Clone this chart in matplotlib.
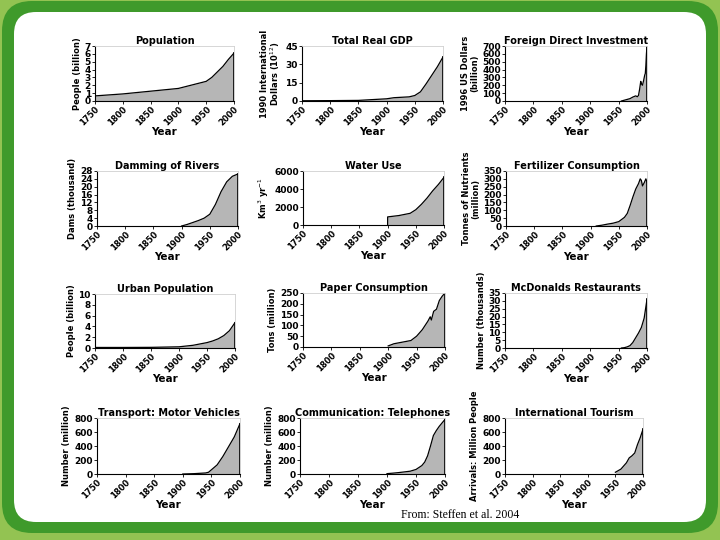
import matplotlib.pyplot as plt
from matplotlib.patches import FancyBboxPatch

# ---- data ----
pop_yr = [1750, 1800, 1850, 1900, 1950, 1960, 1970, 1980, 1990, 2000]
pop_val = [0.65, 0.9, 1.25, 1.6, 2.5, 3.0, 3.7, 4.4, 5.3, 6.1]

gdp_yr = [1750, 1800, 1850, 1900, 1913, 1940, 1950, 1960, 1970, 1980, 1990, 2000]
gdp_val = [0.2, 0.3, 0.5, 1.8, 2.7, 3.4, 4.5, 7.5, 14, 21, 28, 36]

fdi_yr = [1955, 1960, 1970, 1975, 1980, 1983, 1985, 1987, 1989, 1990, 1992, 1994, 1996, 1997, 1998, 1999, 2000]
fdi_val = [0, 10, 30, 50, 65, 55, 70, 150, 250, 220, 200, 260, 330, 350, 450, 600, 700]

dam_yr = [1900, 1910, 1920, 1930, 1940, 1950, 1960, 1970, 1980, 1990, 2000]
dam_val = [0, 0.8, 1.8, 2.8, 4.0, 6.0, 11, 17.5, 22.5, 25.3, 26.5]

wat_yr = [1900, 1900.1, 1920, 1940, 1950, 1960, 1970, 1980, 1990, 2000]
wat_val = [0, 900, 1050, 1300, 1700, 2300, 3000, 3800, 4500, 5300]

fer_yr = [1910, 1920, 1930, 1940, 1950, 1960, 1965, 1970, 1975, 1980, 1985, 1988, 1990, 1992, 1995, 1998, 2000]
fer_val = [0, 5, 12, 18, 28, 55, 80, 130, 185, 235, 270, 300, 290, 255, 275, 300, 280]

urb_yr = [1750, 1800, 1850, 1900, 1925, 1950, 1960, 1970, 1980, 1990, 2000]
urb_val = [0.1, 0.1, 0.12, 0.22, 0.5, 1.0, 1.3, 1.7, 2.3, 3.2, 4.7]

pap_yr = [1900, 1910, 1920, 1930, 1940, 1950, 1960, 1970, 1974, 1976, 1980, 1985, 1990, 1995, 2000]
pap_val = [5, 15, 20, 25, 30, 50, 80, 120, 140, 125, 165, 175, 215, 235, 250]

mcd_yr = [1955, 1960, 1965, 1970, 1975, 1980, 1985, 1990, 1995, 2000]
mcd_val = [0, 0.2, 0.7, 1.5, 3.5, 6.5, 9.5, 13, 19, 31]

car_yr = [1900, 1920, 1940, 1945, 1950, 1960, 1970, 1980, 1990, 2000]
car_val = [0, 5, 15, 25, 60, 130, 250, 390, 530, 720]

tel_yr = [1900, 1910, 1920, 1930, 1940, 1950, 1960, 1965, 1970, 1975, 1980, 1985, 1990, 2000]
tel_val = [5, 12, 20, 30, 40, 65, 120, 170, 260, 400, 550, 620, 680, 780]

tou_yr = [1950, 1960, 1970, 1975, 1980, 1985, 1990, 1995, 2000]
tou_val = [25, 70, 160, 230, 260, 300, 420, 520, 640]

# title, ylabel, years, values, ymax, ystep, (left, top, right, bottom) in pixels
panels = [
    ("Population", "People (billion)", pop_yr, pop_val, 7, 1, (95, 46, 234, 101)),
    ("Total Real GDP", "1990 International\nDollars (10$^{12}$)", gdp_yr, gdp_val, 45, 15, (302, 46, 443, 101)),
    ("Foreign Direct Investment", "1996 US Dollars\n(billion)", fdi_yr, fdi_val, 700, 100, (505, 46, 647, 101)),
    ("Damming of Rivers", "Dams (thousand)", dam_yr, dam_val, 28, 4, (97, 171, 238, 226)),
    ("Water Use", "Km$^3$ yr$^{-1}$", wat_yr, wat_val, 6000, 2000, (303, 171, 444, 225)),
    ("Fertilizer Consumption", "Tonnes of Nutrients\n(million)", fer_yr, fer_val, 350, 50, (506, 171, 647, 226)),
    ("Urban Population", "People (billion)", urb_yr, urb_val, 10, 2, (95, 294, 235, 348)),
    ("Paper Consumption", "Tons (million)", pap_yr, pap_val, 250, 50, (303, 293, 445, 347)),
    ("McDonalds Restaurants", "Number (thousands)", mcd_yr, mcd_val, 35, 5, (505, 293, 647, 348)),
    ("Transport: Motor Vehicles", "Number (million)", car_yr, car_val, 800, 200, (97, 418, 240, 474)),
    ("Communication: Telephones", "Number (million)", tel_yr, tel_val, 800, 200, (300, 418, 445, 474)),
    ("International Tourism", "Arrivals: Million People", tou_yr, tou_val, 800, 200, (505, 418, 643, 474)),
]

W, H = 720, 540
fig = plt.figure(figsize=(7.2, 5.4), dpi=100)
fig.patch.set_facecolor("#93c352")

bg = fig.add_axes([0, 0, 1, 1])
bg.set_xlim(0, W)
bg.set_ylim(H, 0)
bg.axis("off")
bg.add_patch(FancyBboxPatch((2, 1), W - 4, 532, boxstyle="round,pad=0,rounding_size=30",
                            fc="#3f9a2b", ec="none"))
bg.add_patch(FancyBboxPatch((14, 12), W - 28, 510, boxstyle="round,pad=0,rounding_size=22",
                            fc="white", ec="none"))
bg.text(460, 515, "From: Steffen et al. 2004", family="Liberation Serif", fontsize=8.5,
        ha="center", va="center")

for title, ylab, yrs, vals, ymax, ystep, (l, t, r, b) in panels:
    ax = fig.add_axes([l / W, 1 - b / H, (r - l) / W, (b - t) / H])
    ax.fill_between(yrs, vals, color="#b6b6b6", lw=0)
    ax.plot(yrs, vals, color="black", lw=0.9)
    ax.plot([2000, 2000], [0, vals[-1]], color="black", lw=1.2)
    ax.set_xlim(1750, 2000)
    ax.set_ylim(0, ymax)
    ax.set_xticks(range(1750, 2001, 50))
    ax.set_yticks(range(0, ymax + 1, ystep))
    ax.tick_params(axis="y", labelsize=6.5, length=2, width=0.6, pad=1)
    ax.tick_params(axis="x", labelsize=6, length=2, width=0.6, pad=0.5)
    for lab in ax.get_xticklabels():
        lab.set_rotation(45)
        lab.set_ha("right")
        lab.set_rotation_mode("anchor")
        lab.set_fontweight("bold")
    for lab in ax.get_yticklabels():
        lab.set_fontweight("bold")
    for s in ["top", "right"]:
        ax.spines[s].set_color("#d0d0d0")
        ax.spines[s].set_linewidth(0.6)
    for s in ["left", "bottom"]:
        ax.spines[s].set_linewidth(0.8)
    ax.set_title(title, fontsize=7, fontweight="bold", pad=1.5)
    ax.set_xlabel("Year", fontsize=7.5, fontweight="bold", labelpad=0)
    ax.set_ylabel(ylab, fontsize=6, fontweight="bold", labelpad=2, linespacing=1.0)

fig.savefig("out.png", dpi=100, facecolor=fig.get_facecolor())
